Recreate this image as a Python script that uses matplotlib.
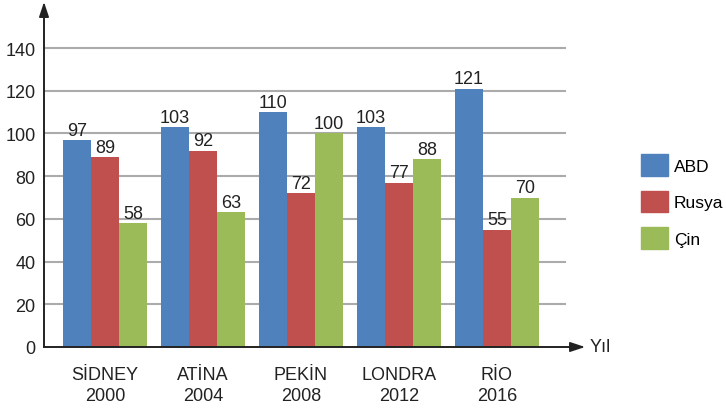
import matplotlib
matplotlib.use("Agg")
import matplotlib.pyplot as plt
from matplotlib.patches import Patch
import numpy as np

plt.rcParams['font.family'] = ['Liberation Sans', 'DejaVu Sans']

cities = ["SİDNEY", "ATİNA", "PEKİN", "LONDRA", "RİO"]
years = ["2000", "2004", "2008", "2012", "2016"]
abd = [97, 103, 110, 103, 121]
rusya = [89, 92, 72, 77, 55]
cin = [58, 63, 100, 88, 70]
series_names = ["ABD", "Rusya", "Çin"]
colors = ["#4F81BD", "#C0504D", "#9BBB59"]
yticks = [0, 20, 40, 60, 80, 100, 120, 140]

FS = 13
W, H = 726, 410
fig = plt.figure(figsize=(W / 100, H / 100), dpi=100)
# axes box in pixels: x 44..580, y 20..348
ax = fig.add_axes([44 / W, (H - 348) / H, (580 - 44) / W, (348 - 20) / H])

x = np.arange(len(cities))
bw = 0.286
ax.set_xlim(-0.622, 4.847)
ax.set_ylim(0, 153.6)

# gridlines
for t in yticks[1:]:
    ax.axhline(t, xmin=0, xmax=0.972, color="#ababab", lw=1.5, zorder=0)

for k, (vals, col) in enumerate(zip([abd, rusya, cin], colors)):
    pos = x + (k - 1) * bw
    ax.bar(pos, vals, width=bw, color=col, zorder=2, label=series_names[k])
    for px, v in zip(pos, vals):
        ax.text(px, v + 0.6, str(v), ha="center", va="bottom", fontsize=FS, color="#222222")

for s in ["top", "right"]:
    ax.spines[s].set_visible(False)
for s in ["left", "bottom"]:
    ax.spines[s].set_color("#222222")
    ax.spines[s].set_linewidth(1.2)

ax.set_yticks(yticks)
ax.set_yticklabels([str(t) for t in yticks], fontsize=FS, color="#222222")
ax.tick_params(axis="y", length=0, pad=6)
ax.set_xticks(x)
ax.set_xticklabels([f"{c}\n{y}" for c, y in zip(cities, years)], fontsize=FS,
                   color="#222222", linespacing=1.3)
ax.tick_params(axis="x", length=0, pad=14)

# axis arrows
ax.annotate("", xy=(44 / W, (H - 3) / H), xytext=(44 / W, (H - 348) / H),
            xycoords="figure fraction", textcoords="figure fraction",
            arrowprops=dict(arrowstyle="-|>,head_length=0.9,head_width=0.3",
                            color="#222222", lw=1.2, shrinkA=0, shrinkB=0))
ax.annotate("", xy=(585 / W, (H - 348) / H), xytext=(44 / W, (H - 348) / H),
            xycoords="figure fraction", textcoords="figure fraction",
            arrowprops=dict(arrowstyle="-|>,head_length=0.9,head_width=0.3",
                            color="#222222", lw=1.2, shrinkA=0, shrinkB=0))
fig.text(590 / W, (H - 348) / H, "Yıl", fontsize=FS, va="center", ha="left", color="#222222")

handles = [Patch(color=c) for c in colors]
fig.legend(handles, series_names, loc="upper left", bbox_to_anchor=(641 / W, 1 - 155 / H),
           frameon=False, fontsize=12.5, handlelength=1.55, handleheight=1.55,
           handletextpad=0.35, labelspacing=0.85, borderpad=0, borderaxespad=0)

fig.savefig("out.png", dpi=100)
